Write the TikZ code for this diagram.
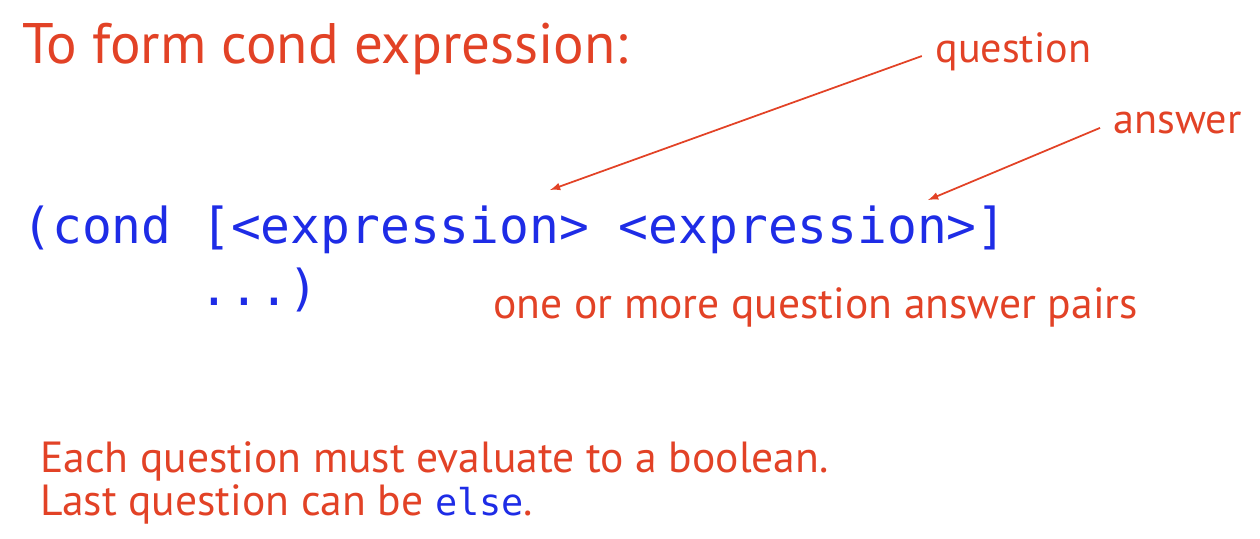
\documentclass[tikz,border=0pt]{standalone}
\usepackage{fontspec}
\setmainfont{PT Sans}
\setmonofont{DejaVu Sans Mono}
\usepackage{xcolor}
\definecolor{slidered}{RGB}{226,66,38}
\definecolor{codeblue}{RGB}{30,44,230}
\tikzset{
  heading/.style={anchor=base west,inner sep=0pt,text=slidered,font=\fontsize{32.5}{38}\selectfont},
  remark/.style={anchor=base west,inner sep=0pt,text=slidered,font=\fontsize{24}{29}\selectfont},
  bodytext/.style={remark,font=\fontsize{24.8}{30}\selectfont},
  codeline/.style={anchor=base west,inner sep=0pt,text=codeblue,font=\ttfamily\fontsize{28.2}{33}\selectfont},
  pointer/.style={-latex,line width=1pt,slidered,shorten <=8pt}
}

\begin{document}
\begin{tikzpicture}[x=0.02cm,y=-0.02cm]
    \useasboundingbox (0,0) rectangle (1260,538);

    \node[heading] (title) at (22,63) {To form cond expression:};
    \node[remark] (question) at (935,62) {question};
    \node[remark] (answer) at (1113,133) {answer};

    \node[codeline] (line1) at (22,243) {(cond [<expression> <expression>]};
    \node[codeline] (line2) at (199,305) {...)};
    \node[bodytext] (pairs) at (493,318) {one or more question answer pairs};

    \coordinate (qtip) at (550,190);
    \coordinate (atip) at (928,200);
    \draw[pointer] (question.west) -- (qtip);
    \draw[pointer] (answer.west) -- (atip);

    \node[bodytext] (rule1) at (40,472) {Each question must evaluate to a boolean.};
    \node[bodytext] (rule2) at (40,515) {Last question can be {\ttfamily\fontsize{21}{25}\selectfont\color{codeblue}else}.};
\end{tikzpicture}
\end{document}
